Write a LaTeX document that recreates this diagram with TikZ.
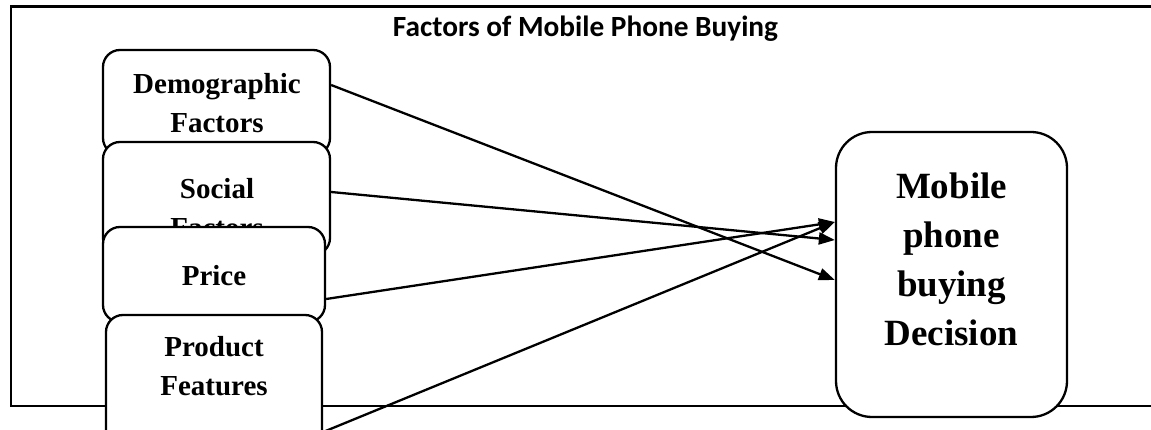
\documentclass[tikz,border=0pt]{standalone}
\usepackage{fontspec}
\setmainfont{Liberation Serif}
\newfontfamily\titlefont{Carlito}
\usetikzlibrary{arrows.meta,calc}
\begin{document}
\begin{tikzpicture}[x=1pt,y=-1pt,
  box/.style={draw,fill=white,line width=2.3pt,rounded corners=17pt,inner sep=0pt},
  boxtext/.style={align=center,font=\fontsize{29}{39}\selectfont\bfseries,inner sep=0pt},
  conn/.style={line width=2.3pt,-{Triangle[length=16pt,width=12pt]}}]
\useasboundingbox (0,0) rectangle (1151,430);
% frame
\draw[line width=1.8pt] (11,7) -- (11,406) -- (1170,406);
\draw[line width=3pt] (10.1,6.5) -- (1170,6.5);
\node[anchor=base,inner sep=0pt] (title) at (585.5,37) {\resizebox{385pt}{!}{\titlefont\bfseries Factors of Mobile Phone Buying}};
% left boxes
\node[box,minimum width=227pt,minimum height=105pt] (demo) at (216.5,102.5) {};
\node[boxtext] (demot) at (217,103) {Demographic\\Factors};
\node[box,minimum width=227pt,minimum height=113pt] (social) at (216.5,198.5) {};
\node[boxtext] (socialt) at (217,208.5) {Social\\Factors};
\node[box,minimum width=222pt,minimum height=95pt] (price) at (214,274.5) {};
\node[boxtext] (pricet) at (214,276) {Price};
\node[box,minimum width=216pt,minimum height=140pt] (prod) at (214,385) {};
\node[boxtext] (prodt) at (214,366.5) {Product\\Features};
% decision box
\node[box,rounded corners=36pt,minimum width=231pt,minimum height=285pt] (mob) at (951.5,274.5) {};
\node[align=center,inner sep=0pt,font=\fontsize{37}{49}\selectfont\bfseries] (mobt) at (951.5,259.5) {Mobile\\phone\\buying\\Decision};
% connectors
\draw[conn] ([yshift=17.5pt]demo.east) -- ([yshift=-5.5pt]mob.west);
\draw[conn] ([yshift=6.5pt]social.east) -- ([yshift=34.5pt]mob.west);
\draw[conn] ([yshift=-24.5pt]price.east) -- ([yshift=52.5pt]mob.west);
\draw[conn] ([yshift=-47pt]prod.east) -- ([yshift=52.5pt]mob.west);
\end{tikzpicture}
\end{document}
